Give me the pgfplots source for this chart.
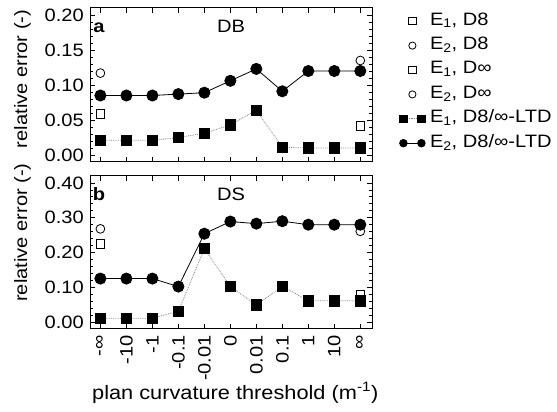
\documentclass[border=0pt]{standalone}
\usepackage{fontspec}
\setmainfont{Liberation Sans}[FakeStretch=1.12]
\usepackage{pgfplots}
\pgfplotsset{compat=1.18}

\pgfplotsset{
  panel/.style={
    scale only axis,
    width=282bp,
    xmin=-0.4, xmax=10.45,
    xtick={0,...,10},
    tick pos=both,
    tick align=inside,
    major tick length=5bp,
    minor tick length=3bp,
    minor y tick num=4,
    axis line style={line width=1bp},
    every tick/.style={black, line width=0.8bp},
    yticklabel style={/pgf/number format/.cd, fixed, fixed zerofill, precision=2, assume math mode=true},
    ylabel={relative error (-)},
    ylabel style={anchor=base, yshift=63bp},
    clip=false,
  },
  d8/.style={black, only marks, mark size=4.4bp, mark options={fill=white, line width=0.8bp}},
  ltd1/.style={gray, densely dotted, line width=0.8bp, mark=square*, mark size=5.2bp,
    mark options={black, fill=black, solid}},
  ltd2/.style={black, line width=0.8bp, mark=*, mark size=5.6bp, mark options={fill=black}},
  markleg/.style={legend image code/.code={
    \path (-5bp,0bp) (23bp,0bp);
    \draw[##1, mark size=3.6bp] plot coordinates {(9bp,0bp)};}},
  lineleg/.style={legend image code/.code={
    \path (-5bp,0bp) (23bp,0bp);
    \draw[##1, mark size=3.8bp] plot coordinates {(0bp,0bp) (18bp,0bp)};}},
}

\begin{document}
\fontsize{18}{22}\selectfont
\begin{tikzpicture}
\useasboundingbox (0,0) rectangle (557bp,412bp);

% panel a: DB
\begin{axis}[
  panel,
  at={(90bp,250bp)}, anchor=south west,
  height=154bp,
  ymin=-0.01, ymax=0.21,
  ytick={0,0.05,...,0.2},
  xticklabels={},
  ylabel style={at={(axis description cs:0,0.54)}},
  legend style={at={(axis description cs:1,1)}, anchor=north west, xshift=26bp, yshift=-1bp,
    draw=none, fill=none, row sep=0pt, inner sep=0pt, outer sep=0pt,
    nodes={inner sep=3.2bp, text height=13bp, text depth=5bp, anchor=west}},
  legend cell align=left,
]
\addplot[d8, mark=square, markleg] coordinates {(0,0.059)};
\addlegendentry{E\textsubscript{1}, D8}
\addplot[d8, mark=o, markleg] coordinates {(0,0.117)};
\addlegendentry{E\textsubscript{2}, D8}
\addplot[d8, mark=square, markleg] coordinates {(10,0.041)};
\addlegendentry{E\textsubscript{1}, D∞}
\addplot[d8, mark=o, markleg] coordinates {(10,0.135)};
\addlegendentry{E\textsubscript{2}, D∞}
\addplot[ltd1, lineleg] coordinates {
  (0,0.021) (1,0.021) (2,0.021) (3,0.025) (4,0.031) (5,0.043)
  (6,0.064) (7,0.011) (8,0.010) (9,0.010) (10,0.010)};
\addlegendentry{E\textsubscript{1}, D8/∞-LTD}
\addplot[ltd2, lineleg] coordinates {
  (0,0.085) (1,0.085) (2,0.085) (3,0.087) (4,0.089) (5,0.106)
  (6,0.123) (7,0.091) (8,0.120) (9,0.120) (10,0.120)};
\addlegendentry{E\textsubscript{2}, D8/∞-LTD}
\node[anchor=base, font=\bfseries] at (axis description cs:0.032,0.84) {a};
\node[anchor=base] at (axis description cs:0.5,0.84) {DB};
\end{axis}

% panel b: DS
\begin{axis}[
  panel,
  at={(90bp,83bp)}, anchor=south west,
  height=153bp,
  ymin=-0.02, ymax=0.42,
  ytick={0,0.1,...,0.4},
  xticklabels={-∞,-10,-1,-0.1,-0.01,0,0.01,0.1,1,10,∞},
  xticklabel style={rotate=90, anchor=east},
  ylabel style={at={(axis description cs:0,0.63)}},
  xlabel={plan curvature threshold (m\textsuperscript{-1})},
  xlabel style={at={(axis description cs:0,0)}, anchor=base west, xshift=-4bp, yshift=-70bp,
    font=\fontsize{19.5}{23}\selectfont},
]
\addplot[d8, mark=square] coordinates {(0,0.225)};
\addplot[d8, mark=o] coordinates {(0,0.268)};
\addplot[d8, mark=square] coordinates {(10,0.078)};
\addplot[d8, mark=o] coordinates {(10,0.261)};
\addplot[ltd1] coordinates {
  (0,0.011) (1,0.011) (2,0.011) (3,0.031) (4,0.211) (5,0.102)
  (6,0.049) (7,0.103) (8,0.061) (9,0.061) (10,0.061)};
\addplot[ltd2] coordinates {
  (0,0.125) (1,0.125) (2,0.125) (3,0.102) (4,0.254) (5,0.289)
  (6,0.283) (7,0.290) (8,0.280) (9,0.280) (10,0.280)};
\node[anchor=base, font=\bfseries] at (axis description cs:0.032,0.84) {b};
\node[anchor=base] at (axis description cs:0.5,0.84) {DS};
\end{axis}
\end{tikzpicture}
\end{document}
